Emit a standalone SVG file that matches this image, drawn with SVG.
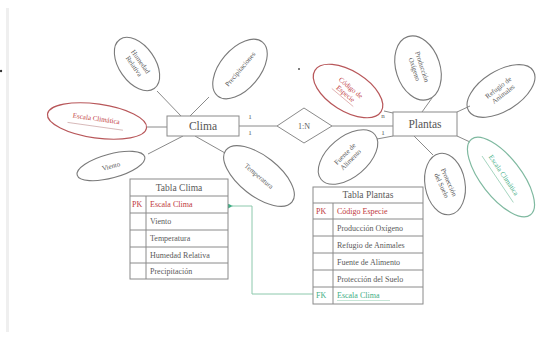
<svg xmlns="http://www.w3.org/2000/svg" width="538" height="342" viewBox="0 0 538 342">
<defs>
<style>
.e{fill:none;stroke:#7a7a7a;stroke-width:1.1}
.er{fill:none;stroke:#b8575a;stroke-width:1.2}
.eg{fill:none;stroke:#7fb9a0;stroke-width:1.2}
.ln{fill:none;stroke:#8a8a8a;stroke-width:1}
.bx{fill:#fff;stroke:#8a8a8a;stroke-width:1}
.t{font-family:"Liberation Serif",serif;fill:#5a5a5a;text-anchor:middle}
.s{font-size:7px}
.m{font-size:11.5px;fill:#555}
.tb{font-family:"Liberation Serif",serif;font-size:8px;fill:#5a5a5a}
.red{fill:#c0393d}
.grn{fill:#3fae85}
</style>
<marker id="ah" viewBox="0 0 6 6" refX="1" refY="3" markerWidth="5" markerHeight="5" orient="auto">
<path d="M6,0 L0,3 L6,6 z" fill="#3fae85"/>
</marker>
</defs>
<rect width="538" height="342" fill="#fff"/>
<rect x="6" y="8" width="3" height="324" fill="#efefef"/>
<circle cx="1" cy="71" r="1.2" fill="#333"/>
<circle cx="299" cy="69" r="1" fill="#555"/>

<g id="connectors">
<line class="ln" x1="147" y1="127" x2="167" y2="127"/>
<line class="ln" x1="157" y1="91" x2="181" y2="116"/>
<line class="ln" x1="209" y1="97" x2="190" y2="116"/>
<line class="ln" x1="148" y1="154" x2="183" y2="136"/>
<line class="ln" x1="195" y1="136" x2="225" y2="153"/>
<line class="ln" x1="239" y1="126" x2="277" y2="126"/>
<line class="ln" x1="332" y1="126" x2="393" y2="126"/>
<line class="ln" x1="384" y1="111" x2="393" y2="113"/>
<line class="ln" x1="377" y1="139" x2="393" y2="136"/>
<line class="ln" x1="432" y1="98" x2="422" y2="112"/>
<line class="ln" x1="457" y1="112" x2="470" y2="106"/>
<line class="ln" x1="414" y1="136" x2="433" y2="155"/>
<line class="ln" x1="457" y1="136" x2="470" y2="142"/>
<text class="t" x="250" y="119" font-size="7">1</text>
<text class="t" x="250" y="135" font-size="7">1</text>
<text class="t" x="383" y="118" font-size="7">n</text>
<text class="t" x="383" y="135" font-size="7">1</text>
<polyline points="313,294 252,294 252,206 232,206" fill="none" stroke="#8cc8ac" stroke-width="1" marker-end="url(#ah)"/>
</g>

<g id="clima">
<rect class="bx" x="167" y="116" width="72" height="20"/>
<text class="t m" x="203" y="130">Clima</text>
</g>

<g id="relacion">
<polygon class="bx" points="277,126 304,108 332,126 304,143"/>
<text class="t" x="304" y="129" font-size="8">1:N</text>
</g>

<g id="plantas">
<rect class="bx" x="393" y="112" width="64" height="24"/>
<text class="t m" x="425" y="128">Plantas</text>
</g>

<g id="humedad">
<ellipse class="e" cx="137" cy="64" rx="30" ry="18" transform="rotate(55 137 64)"/>
<g transform="rotate(55 137 64)"><text class="t s" x="137" y="62">Humedad</text><text class="t s" x="137" y="70">Relativa</text></g>
</g>

<g id="precipitaciones">
<ellipse class="e" cx="240" cy="69" rx="35" ry="20" transform="rotate(-50 240 69)"/>
<text class="t s" x="240" y="71.5" transform="rotate(-50 240 69)">Precipitaciones</text>
</g>

<g id="escala-clima-1">
<ellipse class="er" cx="97" cy="121" rx="50" ry="17" transform="rotate(8 97 121)"/>
<g transform="rotate(8 97 121)">
<text class="t s red" x="96" y="121">Escala Climática</text>
<line x1="68" y1="126.5" x2="124" y2="126.5" stroke="#c9a0a0" stroke-width="0.7"/>
</g>
</g>

<g id="viento">
<ellipse class="e" cx="111" cy="166" rx="35" ry="12" transform="rotate(-15 111 166)"/>
<text class="t s" x="111" y="168.5" transform="rotate(-15 111 166)">Viento</text>
</g>

<g id="temperatura">
<ellipse class="e" cx="259" cy="176" rx="42" ry="20" transform="rotate(38 259 176)"/>
<text class="t s" x="259" y="178.5" transform="rotate(40 259 176)">Temperatura</text>
</g>

<g id="codigo-especie">
<ellipse class="er" cx="348" cy="91" rx="39" ry="20" transform="rotate(32 348 91)"/>
<g transform="rotate(40 348 91)">
<text class="t s red" x="348" y="89">Código de</text>
<text class="t s red" x="348" y="97">Especie</text>
<line x1="334" y1="99.5" x2="362" y2="99.5" stroke="#d08a8a" stroke-width="0.6"/>
</g>
</g>

<g id="produccion">
<ellipse class="e" cx="418" cy="68" rx="33" ry="22" transform="rotate(72 418 68)"/>
<g transform="rotate(72 418 68)"><text class="t s" x="418" y="66">Producción</text><text class="t s" x="418" y="74">Oxígeno</text></g>
</g>

<g id="refugio">
<ellipse class="e" cx="501" cy="91" rx="38" ry="20" transform="rotate(-32 501 91)"/>
<g transform="rotate(-38 501 91)"><text class="t s" x="501" y="89">Refugio de</text><text class="t s" x="501" y="97">Animales</text></g>
</g>

<g id="fuente">
<ellipse class="e" cx="348" cy="157" rx="35" ry="20" transform="rotate(-40 348 157)"/>
<g transform="rotate(-45 348 157)"><text class="t s" x="348" y="155">Fuente de</text><text class="t s" x="348" y="163">Alimento</text></g>
</g>

<g id="proteccion">
<ellipse class="e" cx="445" cy="184" rx="31" ry="20" transform="rotate(80 445 184)"/>
<g transform="rotate(66 445 184)"><text class="t s" x="445" y="182">Protección</text><text class="t s" x="445" y="190">del Suelo</text></g>
</g>

<g id="escala-clima-2">
<ellipse class="eg" cx="501" cy="177" rx="48" ry="20" transform="rotate(52 501 177)"/>
<g transform="rotate(56 501 177)">
<text class="t s grn" x="501" y="176">Escala Climática</text>
<line x1="473" y1="181" x2="529" y2="181" stroke="#8cc9ad" stroke-width="0.7"/>
</g>
</g>

<g id="tabla-clima">
<rect class="bx" x="130" y="179" width="98" height="100"/>
<line class="ln" x1="130" y1="196" x2="228" y2="196"/>
<line class="ln" x1="130" y1="213" x2="228" y2="213"/>
<line class="ln" x1="130" y1="230" x2="228" y2="230"/>
<line class="ln" x1="130" y1="247" x2="228" y2="247"/>
<line class="ln" x1="130" y1="263" x2="228" y2="263"/>
<line class="ln" x1="146" y1="196" x2="146" y2="279"/>
<text class="t" x="179" y="191" font-size="9.5" fill="#444">Tabla Clima</text>
<text class="tb red" x="132" y="207">PK</text>
<text class="tb red" x="150" y="207">Escala Clima</text>
<text class="tb" x="150" y="224">Viento</text>
<text class="tb" x="150" y="241">Temperatura</text>
<text class="tb" x="150" y="258">Humedad Relativa</text>
<text class="tb" x="150" y="274">Precipitación</text>
</g>

<g id="tabla-plantas">
<rect class="bx" x="313" y="187" width="110" height="117"/>
<line class="ln" x1="313" y1="203" x2="423" y2="203"/>
<line class="ln" x1="313" y1="219" x2="423" y2="219"/>
<line class="ln" x1="313" y1="236" x2="423" y2="236"/>
<line class="ln" x1="313" y1="253" x2="423" y2="253"/>
<line class="ln" x1="313" y1="270" x2="423" y2="270"/>
<line class="ln" x1="313" y1="287" x2="423" y2="287"/>
<line class="ln" x1="333" y1="203" x2="333" y2="304"/>
<text class="t" x="368" y="198" font-size="9.5" fill="#444">Tabla Plantas</text>
<text class="tb red" x="316" y="214">PK</text>
<text class="tb red" x="337" y="214">Código Especie</text>
<text class="tb" x="337" y="230.5">Producción Oxígeno</text>
<text class="tb" x="337" y="247.5">Refugio de Animales</text>
<text class="tb" x="337" y="264.5">Fuente de Alimento</text>
<text class="tb" x="337" y="281.5">Protección del Suelo</text>
<text class="tb grn" x="316" y="298">FK</text>
<text class="tb grn" x="337" y="298">Escala Clima</text>
<line x1="337" y1="300.5" x2="390" y2="300.5" stroke="#9fd3bb" stroke-width="0.6"/>
</g>
</svg>
